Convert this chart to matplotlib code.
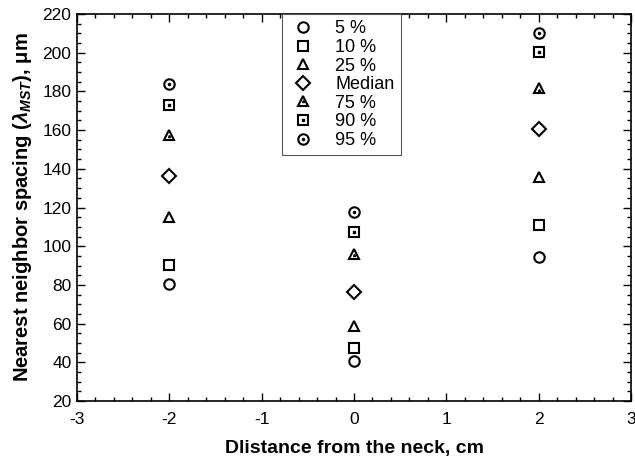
import matplotlib
matplotlib.use('Agg')
import matplotlib.pyplot as plt
from matplotlib.ticker import MultipleLocator

plt.rcParams['font.family'] = ['Liberation Sans', 'DejaVu Sans']
plt.rcParams['axes.unicode_minus'] = False
plt.rcParams['mathtext.fontset'] = 'custom'
plt.rcParams['mathtext.rm'] = 'Liberation Sans'
plt.rcParams['mathtext.it'] = 'Liberation Sans:italic:bold'
plt.rcParams['mathtext.bf'] = 'Liberation Sans:bold'

# Dati
distance = [-2, 0, 2]
p5 = [80.5, 40.5, 94.5]
p10 = [90.5, 47.5, 111]
p25 = [115, 59, 136]
median = [136.5, 76.5, 160.5]
p75 = [157.5, 96, 181.5]
p90 = [173, 107.5, 200.5]
p95 = [184, 117.5, 210]

labels = ['5 %', '10 %', '25 %', 'Median', '75 %', '90 %', '95 %']

fig = plt.figure(figsize=(6.35, 4.57), dpi=100)
ax = fig.add_axes([0.1213, 0.1225, 0.8724, 0.8469])

ms = 7.5
mew = 1.5
common = dict(linestyle='none', color='black', markerfacecolor='none',
              markeredgewidth=mew, markersize=ms)
dot = dict(linestyle='none', color='black', markersize=1.5)

h5, = ax.plot(distance, p5, marker='o', **common)
h10, = ax.plot(distance, p10, marker='s', markersize=ms - 0.6,
               linestyle='none', color='black', markerfacecolor='none',
               markeredgewidth=mew)
h25, = ax.plot(distance, p25, marker='^', **common)
hmed, = ax.plot(distance, median, marker='D', linestyle='none', color='black',
                markerfacecolor='none', markeredgewidth=mew, markersize=ms - 0.3)
h75, = ax.plot(distance, p75, marker='^', **common)
d75, = ax.plot(distance, [v - 0.8 for v in p75], marker='^', **dot)
h90, = ax.plot(distance, p90, marker='s', markersize=ms - 0.6,
               linestyle='none', color='black', markerfacecolor='none',
               markeredgewidth=mew)
d90, = ax.plot(distance, p90, marker='s', **dot)
h95, = ax.plot(distance, p95, marker='o', **common)
d95, = ax.plot(distance, p95, marker='o', **dot)

handles = [h5, h10, h25, hmed, (h75, d75), (h90, d90), (h95, d95)]
leg = ax.legend(handles, labels, loc='upper left',
                bbox_to_anchor=(0.370, 1.0), fontsize=13,
                frameon=True, fancybox=False, framealpha=1,
                edgecolor='#555555', handlelength=1.6, handletextpad=1.0,
                labelspacing=0.09, borderpad=0.35, borderaxespad=0)
leg.get_frame().set_linewidth(0.8)

ax.set_xlim(-3, 3)
ax.set_ylim(20, 220)
ax.xaxis.set_major_locator(MultipleLocator(1))
ax.xaxis.set_minor_locator(MultipleLocator(0.2))
ax.yaxis.set_major_locator(MultipleLocator(20))
ax.yaxis.set_minor_locator(MultipleLocator(5))
ax.tick_params(which='both', direction='in', top=True, right=True,
               labelsize=12.5, width=1)
ax.tick_params(which='major', length=6)
ax.tick_params(which='minor', length=3)
ax.tick_params(axis='x', pad=8)
ax.tick_params(axis='y', pad=4)
for s in ax.spines.values():
    s.set_linewidth(1.2)

ax.set_xlabel('Dlistance from the neck, cm', fontsize=14, fontweight='bold',
              labelpad=9)
ax.set_ylabel(r'Nearest neighbor spacing ($\lambda_{MST}$), μm',
              fontsize=14.5, fontweight='bold', labelpad=6)

plt.savefig('out.png', dpi=100)
